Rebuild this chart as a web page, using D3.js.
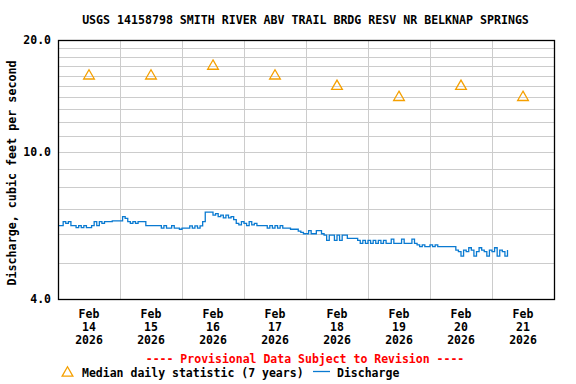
<!DOCTYPE html>
<meta charset="utf-8">
<script src="https://d3js.org/d3.v7.min.js"></script>
<style>
  body { margin: 0; background: #fff; }
  text { font-family: "DejaVu Sans Mono", "Liberation Mono", monospace; font-weight: bold; }
</style>
<div id="my_dataviz"></div>
<script>

// tick labels (one per day, placed at noon)
var tickMonths = ["Feb", "Feb", "Feb", "Feb", "Feb", "Feb", "Feb", "Feb"];
var tickDays   = ["14", "15", "16", "17", "18", "19", "20", "21"];
var tickYears  = ["2026", "2026", "2026", "2026", "2026", "2026", "2026", "2026"];
var yTicks = [4, 10, 20];
var yGrid = [5, 6, 7, 8, 9, 10, 11, 12, 13, 14, 15, 16, 17, 18, 19];

// median daily statistic, one per day
var medianValues = [16, 16, 17, 16, 15, 14, 15, 14];

// hourly discharge, cfs
var feb14Flow = [6.31,6.31,6.47,6.40,6.47,6.31,6.31,6.23,6.31,6.23,6.31,6.23,6.23,6.31,6.47,6.31,6.47,6.40,6.47,6.47,6.47,6.50,6.50,6.50];
var feb15Flow = [6.50,6.67,6.60,6.47,6.40,6.47,6.40,6.47,6.47,6.47,6.31,6.31,6.31,6.31,6.31,6.31,6.21,6.31,6.21,6.21,6.31,6.21,6.21,6.17];
var feb16Flow = [6.21,6.21,6.21,6.30,6.21,6.30,6.21,6.30,6.47,6.86,6.86,6.86,6.74,6.80,6.67,6.74,6.62,6.74,6.62,6.67,6.55,6.40,6.34,6.47];
var feb17Flow = [6.40,6.31,6.47,6.34,6.40,6.31,6.31,6.31,6.31,6.21,6.31,6.21,6.31,6.21,6.31,6.21,6.21,6.21,6.17,6.17,6.17,6.10,6.05,6.00];
var feb18Flow = [6.00,6.12,6.00,6.00,6.12,6.12,6.00,5.95,5.76,5.95,5.95,5.76,5.95,5.76,5.95,5.95,5.83,5.83,5.83,5.83,5.76,5.65,5.76,5.65];
var feb19Flow = [5.76,5.65,5.76,5.65,5.76,5.65,5.76,5.65,5.65,5.80,5.65,5.65,5.65,5.80,5.65,5.65,5.65,5.80,5.65,5.60,5.54,5.60,5.54,5.54];
var feb20Flow = [5.60,5.54,5.60,5.54,5.54,5.54,5.54,5.54,5.54,5.54,5.42,5.37,5.22,5.42,5.37,5.50,5.42,5.22,5.37,5.50,5.42,5.37,5.22,5.42];
var feb21Flow = [5.37,5.50,5.22,5.42,5.37,5.22,5.42];

var flow = [].concat(feb14Flow, feb15Flow, feb16Flow, feb17Flow, feb18Flow, feb19Flow, feb20Flow, feb21Flow);

var start = Date.UTC(2026, 1, 14);
var hour = 3600 * 1000, day = 24 * hour;

var plotLeft = 58, plotRight = 554, plotTop = 40, plotBottom = 299;

var svg = d3.select("#my_dataviz")
  .append("svg")
    .attr("width", 576)
    .attr("height", 384);

var x = d3.scaleUtc()
    .domain([new Date(start), new Date(start + 8 * day)])
    .range([plotLeft, plotRight]);

var y = d3.scaleLog()
    .domain([4, 20])
    .range([plotBottom, plotTop]);

// grid
var grid = svg.append("g").attr("stroke", "#cccccc").attr("stroke-width", 1).attr("shape-rendering", "crispEdges");
grid.selectAll(".h").data(yGrid).enter().append("line")
    .attr("x1", plotLeft).attr("x2", plotRight)
    .attr("y1", function(d) { return Math.round(y(d)) + 0.5; })
    .attr("y2", function(d) { return Math.round(y(d)) + 0.5; });
grid.selectAll(".v").data(d3.range(1, 8)).enter().append("line")
    .attr("y1", plotTop).attr("y2", plotBottom)
    .attr("x1", function(d) { return Math.round(x(new Date(start + d * day))) + 0.5; })
    .attr("x2", function(d) { return Math.round(x(new Date(start + d * day))) + 0.5; });

// discharge line
var line = d3.line()
    .curve(d3.curveStepAfter)
    .x(function(d, i) { return x(new Date(start + i * hour)); })
    .y(function(d) { return y(d); });

svg.append("path")
    .datum(flow)
    .attr("fill", "none")
    .attr("stroke", "#0a7ad1")
    .attr("stroke-width", 1.3)
    .attr("d", line);

// median triangles
var tri = d3.symbol().type(d3.symbolTriangle).size(50);
svg.selectAll(".med").data(medianValues).enter().append("path")
    .attr("transform", function(d, i) { return "translate(" + x(new Date(start + i * day + 12 * hour)) + "," + y(d) + ")"; })
    .attr("d", tri)
    .attr("fill", "none")
    .attr("stroke", "#f5a000")
    .attr("stroke-width", 1.3);

// frame
svg.append("rect")
    .attr("x", plotLeft + 0.5).attr("y", plotTop + 0.5)
    .attr("width", plotRight - plotLeft).attr("height", plotBottom - plotTop)
    .attr("fill", "none").attr("stroke", "#000").attr("stroke-width", 1.3);

// y tick labels
svg.selectAll(".yt").data(yTicks).enter().append("text")
    .attr("x", 51)
    .attr("y", function(d) { return y(d) + 4; })
    .attr("text-anchor", "end")
    .attr("font-size", "11.5px")
    .text(function(d) { return d.toFixed(1); });

// x tick labels
var xl = svg.append("g").attr("font-size", "11.5px").attr("text-anchor", "middle");
tickDays.forEach(function(dd, i) {
  var cx = x(new Date(start + i * day + 12 * hour));
  var t = xl.append("text").attr("x", cx).attr("y", 318);
  t.append("tspan").attr("x", cx).attr("dy", 0).text(tickMonths[i]);
  t.append("tspan").attr("x", cx).attr("dy", 13).text(dd);
  t.append("tspan").attr("x", cx).attr("dy", 13).text(tickYears[i]);
});

// title
svg.append("text")
    .attr("x", 305.5).attr("y", 24)
    .attr("text-anchor", "middle")
    .attr("font-size", "11.6px")
    .text("USGS 14158798 SMITH RIVER ABV TRAIL BRDG RESV NR BELKNAP SPRINGS");

// y axis title
svg.append("text")
    .attr("transform", "translate(16,173) rotate(-90)")
    .attr("text-anchor", "middle")
    .attr("font-size", "11.7px")
    .text("Discharge, cubic feet per second");

// provisional note
svg.append("text")
    .attr("x", 305).attr("y", 363)
    .attr("text-anchor", "middle")
    .attr("font-size", "11.5px")
    .attr("fill", "#ff0000")
    .text("---- Provisional Data Subject to Revision ----");

// legend
svg.append("path")
    .attr("transform", "translate(67.5,373)")
    .attr("d", tri)
    .attr("fill", "none")
    .attr("stroke", "#f5a000")
    .attr("stroke-width", 1.3);
svg.append("text")
    .attr("x", 82).attr("y", 377)
    .attr("font-size", "11.5px")
    .text("Median daily statistic (7 years)");
svg.append("line")
    .attr("x1", 313).attr("x2", 330).attr("y1", 371.5).attr("y2", 371.5)
    .attr("stroke", "#0a7ad1").attr("stroke-width", 1.3);
svg.append("text")
    .attr("x", 337).attr("y", 377)
    .attr("font-size", "11.5px")
    .text("Discharge");

</script>
